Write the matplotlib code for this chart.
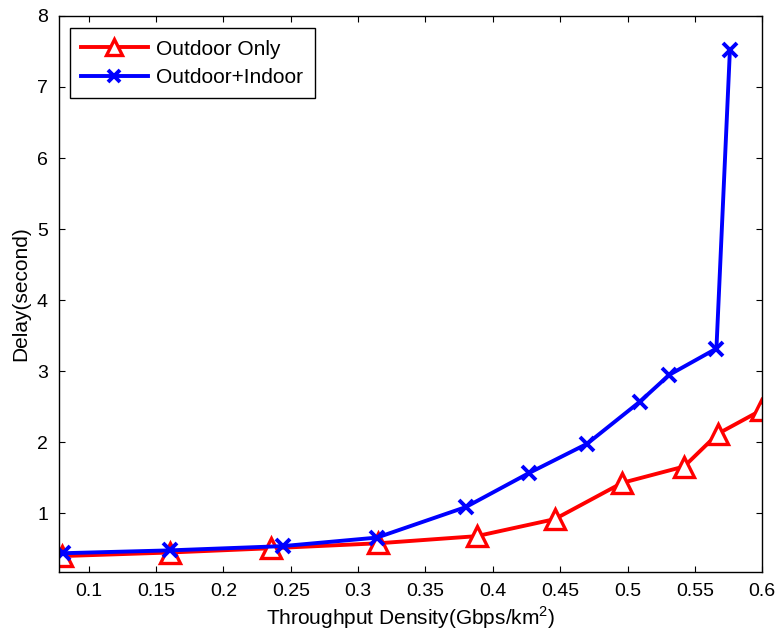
#!/usr/bin/env python3
"""Delay vs throughput density, outdoor only vs outdoor+indoor."""

import matplotlib
matplotlib.use("Agg")
import matplotlib.pyplot as plt

# Outdoor only (red triangles)
outdoor_x = [0.080, 0.160, 0.235, 0.315, 0.388, 0.446, 0.496, 0.542, 0.567, 0.599]
outdoor_y = [0.40, 0.45, 0.51, 0.58, 0.68, 0.92, 1.43, 1.66, 2.12, 2.45]

# Outdoor + indoor (blue crosses)
both_x = [0.081, 0.160, 0.244, 0.314, 0.380, 0.427, 0.470, 0.509, 0.531, 0.566, 0.576]
both_y = [0.44, 0.48, 0.54, 0.66, 1.09, 1.57, 1.98, 2.57, 2.95, 3.32, 7.52]

x_ticks = [0.1, 0.15, 0.2, 0.25, 0.3, 0.35, 0.4, 0.45, 0.5, 0.55, 0.6]
x_tick_labels = ["0.1", "0.15", "0.2", "0.25", "0.3", "0.35", "0.4", "0.45", "0.5", "0.55", "0.6"]
y_ticks = [1, 2, 3, 4, 5, 6, 7, 8]

plt.rcParams["font.family"] = ["Liberation Sans", "DejaVu Sans"]
plt.rcParams["mathtext.fontset"] = "custom"
plt.rcParams["mathtext.rm"] = "Liberation Sans"

fig = plt.figure(figsize=(7.77, 6.37), dpi=100)
ax = fig.add_axes([0.076, 0.1025, 0.905, 0.8725])

ax.plot(outdoor_x, outdoor_y, color="red", lw=2.8, marker="^", ms=14,
        mfc="white", mec="red", mew=2.4, label="Outdoor Only")
ax.plot(both_x, both_y, color="blue", lw=2.8, marker="x", ms=10,
        mew=2.8, label="Outdoor+Indoor")

ax.set_xlim(0.078, 0.6)
ax.set_ylim(0.18, 8)
ax.set_xticks(x_ticks)
ax.set_xticklabels(x_tick_labels)
ax.set_yticks(y_ticks)
ax.tick_params(direction="in", length=4, width=0.8, top=True, right=True,
               labelsize=14, pad=8)

ax.set_xlabel("Throughput Density(Gbps/km$^\\mathregular{2}$)", fontsize=15, labelpad=3)
ax.set_ylabel("Delay(second)", fontsize=15, labelpad=5)

leg = ax.legend(loc="upper left", fontsize=15, fancybox=False, edgecolor="black",
                framealpha=1, handlelength=3.2, handletextpad=0.4,
                borderpad=0.55, labelspacing=0.45, borderaxespad=0.0,
                bbox_to_anchor=(0.015, 0.978))
leg.get_frame().set_linewidth(1.0)
for h in leg.legend_handles:
    h.set_markersize(h.get_markersize() * 0.85)

for s in ax.spines.values():
    s.set_linewidth(1.0)

fig.savefig("out.png", dpi=100)
plt.close(fig)
